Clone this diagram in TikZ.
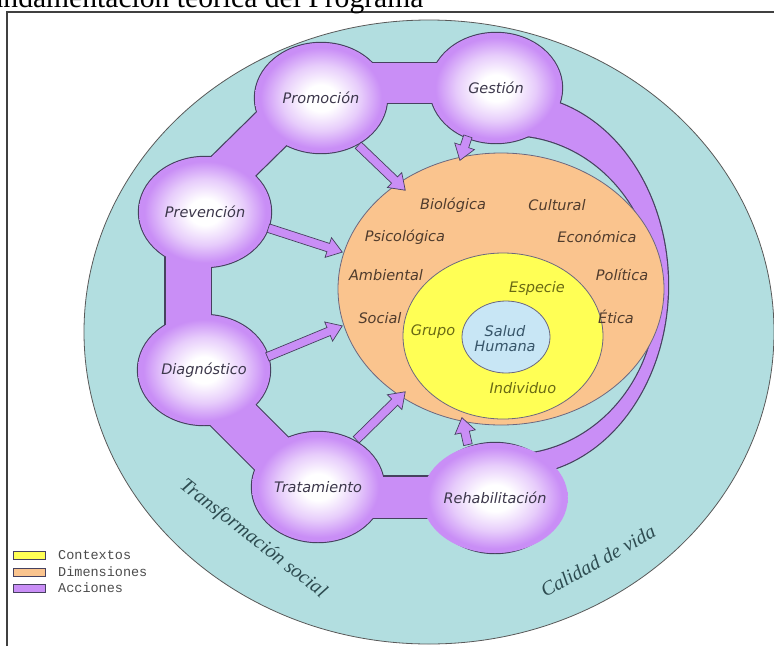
\documentclass[tikz,border=0pt]{standalone}
\usepackage{fontspec}
\setmainfont{Liberation Serif}
\newfontfamily\dvs{DejaVu Sans}
\newfontfamily\lmono{Liberation Mono}
\usetikzlibrary{shapes.geometric,shapes.arrows,calc}
\definecolor{tealc}{RGB}{178,222,224}
\definecolor{purp}{RGB}{201,142,246}
\definecolor{orng}{RGB}{250,196,142}
\definecolor{yell}{RGB}{255,255,85}
\definecolor{lblue}{RGB}{200,230,245}
\definecolor{edge}{RGB}{70,65,95}
\definecolor{lbltxt}{RGB}{60,55,75}
\definecolor{dimtxt}{RGB}{80,60,45}
\definecolor{ctxtxt}{RGB}{105,105,20}
\definecolor{saltxt}{RGB}{55,85,105}
\definecolor{outtxt}{RGB}{45,75,80}
\pgfdeclareradialshading{bub}{\pgfpoint{0bp}{0bp}}{color(0bp)=(white); color(6bp)=(white); color(15bp)=(purp!45); color(23bp)=(purp); color(50bp)=(purp)}
\newcommand\fatarrow[3]{\path let \p1=(#1), \p2=(#2), \n1={atan2(\y2-\y1,\x2-\x1)}, \n2={veclen(\x2-\x1,\y2-\y1)} in node[fatarr, minimum height=\n2, rotate=\n1] (#3) at (\p1) {};}
\begin{document}
\begin{tikzpicture}[x=1pt,y=-1pt,
  outl/.style={draw=edge, line width=2.4pt},
  bubble/.style={ellipse, shade, shading=bub, minimum width=132pt, minimum height=110pt, inner sep=0pt, font=\dvs\itshape\fontsize{14.5}{16}\selectfont, text=lbltxt},
  dimlbl/.style={font=\dvs\itshape\fontsize{14.5}{16}\selectfont, text=dimtxt, inner sep=0pt},
  ctxlbl/.style={dimlbl, text=ctxtxt},
  sallbl/.style={dimlbl, text=saltxt, align=center},
  outlbl/.style={font=\itshape\fontsize{20}{22}\selectfont, text=outtxt, inner sep=0pt},
  legbox/.style={draw=edge, line width=0.9pt, minimum width=32pt, minimum height=8pt, inner sep=0pt},
  leglbl/.style={font=\lmono\fontsize{13.5}{15}\selectfont, text=black!70, anchor=west, inner sep=0pt},
  fatarr/.style={single arrow, draw=edge, fill=purp, line width=0.7pt, inner xsep=0pt, inner ysep=4pt, single arrow head extend=6pt, single arrow tip angle=70, anchor=tail}
]
\useasboundingbox (0,0) rectangle (774,646);
\clip (0,0) rectangle (774,646);
\fill[white] (0,0) rectangle (774,646);

% outer teal region
\filldraw[fill=tealc, draw=black!65, line width=0.8pt] (429,332) ellipse [x radius=345pt, y radius=312pt];

% bubble centres
\coordinate (cprom) at (321,98);
\coordinate (cgest) at (496,88);
\coordinate (cprev) at (205,212);
\coordinate (cdiag) at (204,370);
\coordinate (ctrat) at (318,487);
\coordinate (crehab) at (495,498);
% band ends
\coordinate (b1a) at (321,83); \coordinate (b1b) at (496,83);
\coordinate (b2a) at (196,203); \coordinate (b2b) at (312,89);
\coordinate (b3a) at (188,212); \coordinate (b3b) at (188,370);
\coordinate (b4a) at (196,378); \coordinate (b4b) at (310,492);
\coordinate (b5a) at (318,497); \coordinate (b5b) at (495,497);

\def\crescent{plot[domain=-80:80, samples=60, smooth] ({515+153*cos(\x)},{285+190*sin(\x)})
  -- plot[domain=86:-86, samples=60, smooth] ({510+147*cos(\x)},{295+160*sin(\x)}) -- cycle}

% outline layer
\draw[outl] \crescent;
\draw[edge, line width=42.4pt] (b1a) -- (b1b);
\draw[edge, line width=46.4pt] (b2a) -- (b2b);
\draw[edge, line width=47.4pt] (b3a) -- (b3b);
\draw[edge, line width=48.4pt] (b4a) -- (b4b);
\draw[edge, line width=43.4pt] (b5a) -- (b5b);
\foreach \c in {cprom,cgest,cprev,cdiag,ctrat,crehab}
  \draw[outl] (\c) ellipse [x radius=66pt, y radius=55pt];
% fill layer
\fill[purp] \crescent;
\draw[purp, line width=40pt] (b1a) -- (b1b);
\draw[purp, line width=44pt] (b2a) -- (b2b);
\draw[purp, line width=45pt] (b3a) -- (b3b);
\draw[purp, line width=46pt] (b4a) -- (b4b);
\draw[purp, line width=41pt] (b5a) -- (b5b);
\foreach \c in {cprom,cgest,cprev,cdiag,ctrat,crehab}
  \fill[purp] (\c) ellipse [x radius=66pt, y radius=55pt];

% bubbles
\node[bubble] (prom) at (cprom) {Promoción};
\node[bubble] (gest) at (cgest) {Gestión};
\node[bubble] (prev) at (cprev) {Prevención};
\node[bubble] (diag) at (cdiag) {Diagnóstico};
\node[bubble] (trat) at (ctrat) {Tratamiento};
\node[bubble] (rehab) at (crehab) {Rehabilitación};

% nested ellipses
\filldraw[fill=orng, draw=edge!80, line width=0.8pt] (501,289) ellipse [x radius=163pt, y radius=136pt];
\filldraw[fill=yell, draw=edge!80, line width=0.8pt] (503,336) ellipse [x radius=100pt, y radius=83pt];
\filldraw[fill=lblue, draw=edge!80, line width=0.8pt] (506,337) ellipse [x radius=44pt, y radius=36pt];

% arrows
\coordinate (a1s) at (358,145); \coordinate (a1e) at (405,190);
\coordinate (a2s) at (468,136); \coordinate (a2e) at (460,160);
\coordinate (a3s) at (268,228); \coordinate (a3e) at (342,252);
\coordinate (a4s) at (267,357); \coordinate (a4e) at (342,326);
\coordinate (a5s) at (356,440); \coordinate (a5e) at (405,392);
\coordinate (a6s) at (468,445); \coordinate (a6e) at (462,418);
\fatarrow{a1s}{a1e}{ar1}
\fatarrow{a2s}{a2e}{ar2}
\fatarrow{a3s}{a3e}{ar3}
\fatarrow{a4s}{a4e}{ar4}
\fatarrow{a5s}{a5e}{ar5}
\fatarrow{a6s}{a6e}{ar6}

% dimension labels
\node[dimlbl] (biol) at (453,205) {Biológica};
\node[dimlbl] (cult) at (557,205) {Cultural};
\node[dimlbl] (psic) at (405,237) {Psicológica};
\node[dimlbl] (econ) at (597,237) {Económica};
\node[dimlbl] (ambi) at (386,275) {Ambiental};
\node[dimlbl] (poli) at (622,275) {Política};
\node[dimlbl] (soci) at (380,318) {Social};
\node[dimlbl] (etic) at (616,317) {Ética};
% context labels
\node[ctxlbl] (espe) at (537,288) {Especie};
\node[ctxlbl] (grup) at (433,332) {Grupo};
\node[ctxlbl] (indi) at (523,388) {Individuo};
\node[sallbl] (salu) at (505,339) {Salud\\[-1pt]Humana};

% outer labels
\node[outlbl, rotate=-38] (trans) at (253,539) {Transformación social};
\node[outlbl, rotate=29] (cali) at (598,561) {Calidad de vida};

% legend
\node[legbox, fill=yell] (ly) at (29,555) {};
\node[legbox, fill=orng] (lo) at (29,572) {};
\node[legbox, fill=purp] (lp) at (29,588) {};
\node[leglbl] (tly) at (58,555) {Contextos};
\node[leglbl] (tlo) at (58,572) {Dimensiones};
\node[leglbl] (tlp) at (58,588) {Acciones};

% frame and title
\draw[black!75, line width=1.3pt] (7,646) -- (7,12) -- (774,12);
\node[anchor=base west, inner sep=0pt, font=\fontsize{29.6}{32}\selectfont] (title) at (-28,7) {Fundamentación teórica del Programa};
\end{tikzpicture}
\end{document}
